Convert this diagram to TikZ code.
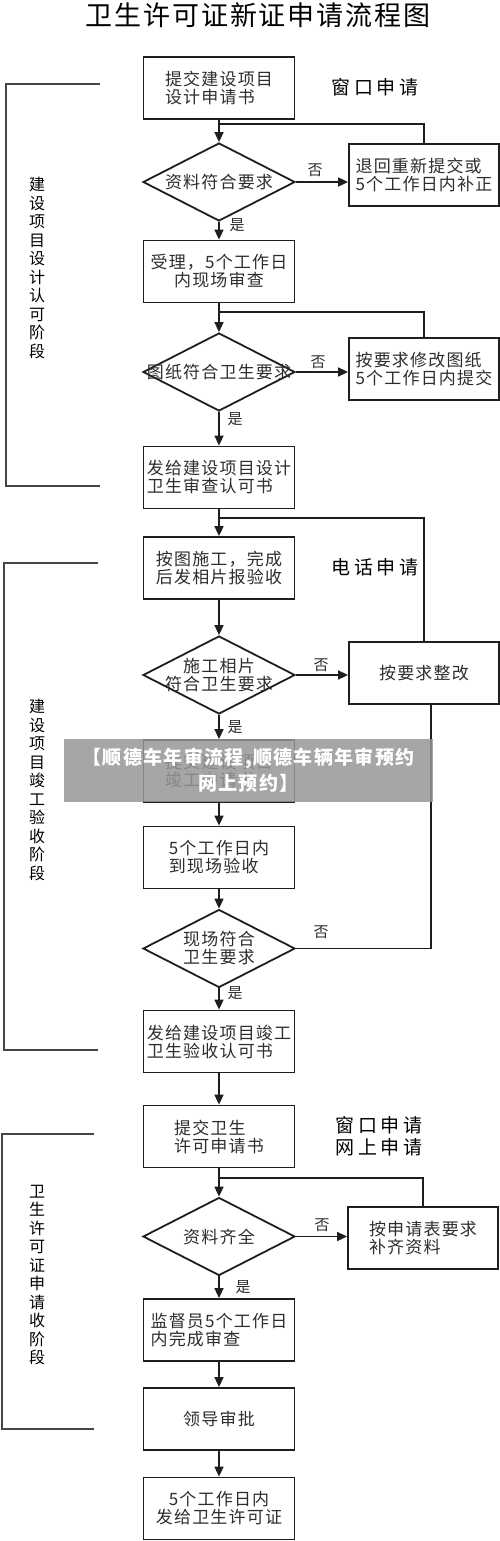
\documentclass[tikz,border=0pt]{standalone}
\usepackage{fontspec}
\setmainfont{Noto Sans CJK SC}
\newfontfamily\cjk[LetterSpace=7]{Noto Sans CJK SC}
\newfontfamily\cjkwide[LetterSpace=18]{Noto Sans CJK SC}
\usepackage{tikz}
\usetikzlibrary{shapes.geometric,arrows.meta,positioning,calc}
\definecolor{inkline}{RGB}{30,30,30}
\definecolor{inktext}{RGB}{45,45,45}
\definecolor{brkgray}{RGB}{70,70,70}
\definecolor{wmgray}{RGB}{150,150,150}
\tikzset{
  % Process box
  pbox/.style={rectangle, draw=inkline, line width=1.8pt, align=#1,
               minimum width=151pt, minimum height=62pt, inner sep=2pt,
               font=\cjk\fontsize{17pt}{18pt}\selectfont, text=inktext},
  pbox/.default=left,
  % Side box (correction)
  rbox/.style={pbox=#1, minimum width=150pt},
  rbox/.default=left,
  % Decision diamond (text set as a centre label)
  dbox/.style={diamond, draw=inkline, line width=1.8pt,
               minimum width=152pt, minimum height=78pt, inner sep=0pt},
  dtxt/.style={align=center, inner sep=0pt,
               font=\cjk\fontsize{17pt}{18pt}\selectfont, text=inktext},
  % Yes / no marks
  lab/.style={font=\cjk\fontsize{15pt}{16pt}\selectfont, text=inktext, inner sep=0pt},
  % Stage labels and channel labels
  stg/.style={align=center, inner sep=0pt,
              font=\cjk\fontsize{16pt}{18.5pt}\selectfont, text=black},
  side/.style={align=center, inner sep=0pt,
               font=\cjkwide\fontsize{19pt}{22pt}\selectfont, text=black},
  % Watermark banner
  wm/.style={rectangle, fill=wmgray, fill opacity=0.85, text opacity=1,
             text=white, align=center, inner sep=0pt,
             minimum width=369pt, minimum height=63pt,
             font=\cjk\bfseries\fontsize{19pt}{26pt}\selectfont},
  % Lines
  arr/.style={-{Triangle[length=10pt,width=9pt]}, line width=1.6pt, draw=inkline},
  ln/.style={line width=1.6pt, draw=inkline},
  brk/.style={line width=1.5pt, draw=brkgray},
}

\begin{document}
\begin{tikzpicture}[x=1pt,y=-1pt]
  \useasboundingbox (0,0) rectangle (500,1541);

  %% ── Title ──────────────────────────────────────────────
  \node[font=\cjk\fontsize{27pt}{30pt}\selectfont, inner sep=0pt] (title)
       at (258,15) {卫生许可证新证申请流程图};

  %% ── Stage 1: design approval ───────────────────────────
  \node[pbox] (b1) at (219,88) {提交建设项目\\设计申请书};
  \node[dbox, label={[dtxt]center:{资料符合要求}}] (d1) at (219,182) {};
  \node[rbox] (r1) at (424,175) {退回重新提交或\\5个工作日内补正};
  \node[pbox=center] (b2) at (219,271.5) {受理，5个工作日\\内现场审查};
  \node[dbox, label={[dtxt]center:{图纸符合卫生要求}}] (d2) at (219,372) {};
  \node[rbox] (r2) at (424,369) {按要求修改图纸\\5个工作日内提交};
  \node[pbox] (b3) at (219,477.5) {发给建设项目设计\\卫生审查认可书};

  \node[side] (w1) at (375,87) {窗口申请};
  \node[lab] (n1) at (315,170) {否};
  \node[lab] (y1) at (237,225) {是};
  \node[lab] (n2) at (318,362) {否};
  \node[lab] (y2) at (235,419) {是};

  \draw[brk] (100,84) -| (6,486) -- (100,486);
  \node[stg] (s1) at (37,268) {建\\设\\项\\目\\设\\计\\认\\可\\阶\\段};

  %% ── Stage 2: completion acceptance ─────────────────────
  \node[pbox] (b4) at (219,568) {按图施工，完成\\后发相片报验收};
  \node[dbox, label={[dtxt]center:{施工相片\\符合卫生要求}}] (d3) at (219,675) {};
  \node[rbox=center] (r3) at (424,673) {按要求整改};
  \node[pbox] (b5) at (219,771) {提交建设项目\\竣工申请书};
  \node[pbox] (b6) at (219,857.5) {5个工作日内\\到现场验收};
  \node[dbox, label={[dtxt]center:{现场符合\\卫生要求}}] (d4) at (219,948.5) {};
  \node[pbox] (b7) at (219,1041.5) {发给建设项目竣工\\卫生验收认可书};

  \node[side] (w2) at (375,567) {电话申请};
  \node[lab] (n3) at (321,665) {否};
  \node[lab] (y3) at (235,727) {是};
  \node[lab] (n4) at (321,932) {否};
  \node[lab] (y4) at (235,993) {是};

  \draw[brk] (98,563) -| (4,1050) -- (98,1050);
  \node[stg] (s2) at (37,790) {建\\设\\项\\目\\竣\\工\\验\\收\\阶\\段};

  %% ── Stage 3: licence application ───────────────────────
  \node[pbox] (b8) at (219,1136.5) {提交卫生\\许可申请书};
  \node[dbox, label={[dtxt]center:{资料齐全}}] (d5) at (219,1236.5) {};
  \node[rbox] (r5) at (423,1238) {按申请表要求\\补齐资料};
  \node[pbox] (b9) at (219,1330) {监督员5个工作日\\内完成审查};
  \node[pbox=center] (b10) at (219,1419) {领导审批};
  \node[pbox=center] (b11) at (219,1508.5) {5个工作日内\\发给卫生许可证};

  \node[side] (w3) at (379,1136) {窗口申请\\网上申请};
  \node[lab] (n5) at (322,1225) {否};
  \node[lab] (y5) at (243,1287) {是};

  \draw[brk] (94,1134) -| (2,1429) -- (94,1429);
  \node[stg] (s3) at (37,1275) {卫\\生\\许\\可\\证\\申\\请\\收\\阶\\段};

  %% ── Arrows ─────────────────────────────────────────────
  \foreach \a/\b in {b1/d1, d1/b2, b2/d2, d2/b3, b3/b4, b4/d3, d3/b5,
                     b5/b6, b6/d4, d4/b7, b7/b8, b8/d5, d5/b9, b9/b10, b10/b11}
    \draw[arr] (\a) -- (\b);

  \draw[arr] (d1.east) -- (d1.east -| r1.west);
  \draw[arr] (d2.east) -- (d2.east -| r2.west);
  \draw[arr] (d3.east) -- (d3.east -| r3.west);
  \draw[arr] (d5.east) -- (d5.east -| r5.west);

  %% return lines
  \coordinate (j1) at (219,124);
  \coordinate (j2) at (219,312);
  \coordinate (j3) at (219,518);
  \coordinate (j5) at (219,1178);
  \draw[ln] (r1.north) |- (j1);
  \draw[ln] (r2.north) |- (j2);
  \draw[ln] (r3.north) |- (j3);
  \draw[ln] (r5.north) |- (j5);
  \draw[ln] (d4.east) -| ([xshift=7pt]r3.south);

  %% ── Watermark ──────────────────────────────────────────
  \node[wm] (wm) at (248.5,770.5) {【顺德车年审流程,顺德车辆年审预约\\网上预约】};

\end{tikzpicture}
\end{document}
